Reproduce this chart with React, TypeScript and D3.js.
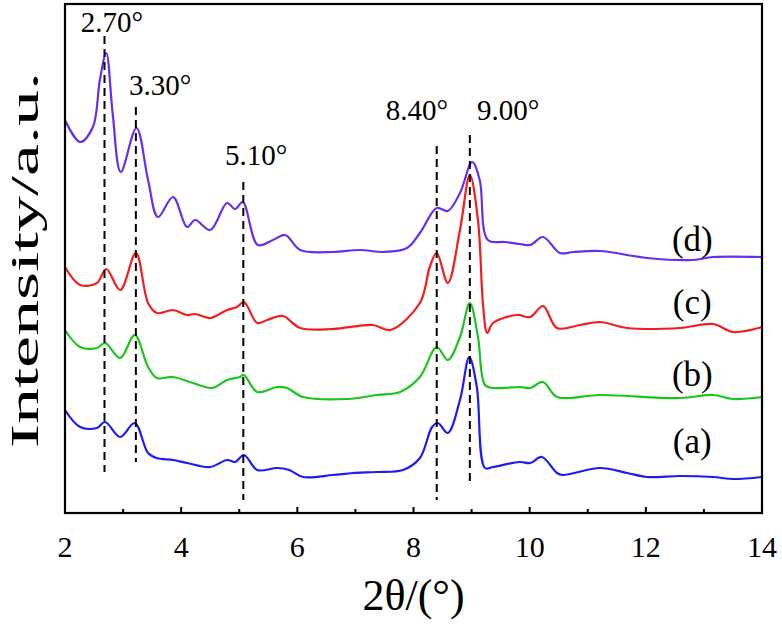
import React from "react";
import * as d3 from "d3";

// ---- data ----
const X_TICKS = [2, 4, 6, 8, 10, 12, 14];
const X_MINOR = [3, 5, 7, 9, 11, 13];

const A_X = [2.00,2.26,2.55,2.69,2.95,3.20,3.43,3.58,3.86,4.10,4.50,4.79,4.93,5.08,5.31,5.65,5.86,6.10,6.61,6.96,7.37,7.82,8.11,8.32,8.42,8.59,8.80,8.96,9.09,9.23,9.37,9.83,10.01,10.21,10.47,10.57,11.21,11.68,12.02,12.59,13.16,13.50,14.00];
const A_Y = [103,86,85,91,76,90,60,55,53,50,46,53,51,58,43,45,43,36,38,40,41,43,55,86,90,80,113,156,126,45,46,51,50,56,40,38,45,40,36,37,36,34,36];

const B_X = [2.00,2.26,2.55,2.69,2.95,3.20,3.43,3.58,3.86,4.20,4.53,4.79,5.01,5.08,5.31,5.65,5.82,6.10,6.86,7.37,7.77,8.11,8.40,8.59,8.80,8.97,9.11,9.23,9.37,9.83,10.01,10.23,10.47,11.21,12.59,13.16,13.50,14.00];
const B_Y = [183,166,165,170,155,178,146,135,136,130,125,133,136,138,121,126,125,116,114,118,121,136,166,153,176,210,176,128,125,126,125,131,116,118,115,118,114,116];

const C_X = [2.00,2.26,2.55,2.71,2.95,3.22,3.43,3.58,3.86,4.10,4.24,4.50,4.79,4.96,5.08,5.31,5.48,5.75,6.05,6.61,7.30,7.60,8.11,8.28,8.40,8.59,8.80,8.97,9.11,9.20,9.27,9.37,9.78,10.01,10.23,10.47,10.87,11.21,11.68,12.59,13.16,13.50,14.00];
const C_Y = [246,228,230,244,223,260,210,200,203,198,199,195,203,206,211,190,193,197,185,184,188,183,210,246,260,230,283,338,293,206,180,190,198,196,207,185,188,191,185,185,189,181,186];

const D_X = [2.00,2.26,2.48,2.60,2.71,2.82,2.96,3.23,3.43,3.60,3.86,4.10,4.24,4.50,4.79,4.93,5.06,5.32,5.58,5.79,6.05,6.61,7.08,7.48,7.89,8.11,8.40,8.59,8.80,9.01,9.14,9.28,9.57,9.83,10.01,10.23,10.52,10.75,11.21,12.02,12.81,13.16,14.00];
const D_Y = [393,371,386,433,460,400,341,385,333,296,316,286,293,283,310,304,311,268,273,278,263,261,263,261,265,280,305,302,320,351,333,273,271,269,268,276,260,261,262,255,253,256,256];

const SERIES_NAMES = ["(a)", "(b)", "(c)", "(d)"];
const SERIES_COLORS = ["#1c1cf5", "#1ec41e", "#f51c1c", "#6430ee"];

const DASH_X = [2.68, 3.22, 5.07, 8.40, 8.97];
const DASH_TOP = [477, 406, 331, 367, 378];
const DASH_BOTTOM = [41, 51, 13, 13, 28];
const PEAK_LABELS = ["2.70°", "3.30°", "5.10°", "8.40°", "9.00°"];

// annotation anchors (data coordinates)
const PEAK_LABEL_X = [2.81, 3.64, 5.29, 8.06, 9.63];
const PEAK_LABEL_Y = [481, 418, 348, 393, 393];
const SERIES_LABEL_X = 12.8;
const SERIES_LABEL_Y = [60, 127, 199, 262];

const W = 782;
const H = 624;
const M = { left: 65, right: 762, top: 4, bottom: 513 };
const FONT = "Liberation Serif, DejaVu Serif, serif";

export default function App() {
  const x = d3.scaleLinear().domain([2, 14]).range([M.left, M.right]);
  const y = d3.scaleLinear().domain([0, 509]).range([M.bottom, M.top]);

  const series = [
    { xs: A_X, ys: A_Y },
    { xs: B_X, ys: B_Y },
    { xs: C_X, ys: C_Y },
    { xs: D_X, ys: D_Y },
  ];

  const line = d3
    .line<[number, number]>()
    .x((d) => x(d[0]))
    .y((d) => y(d[1]))
    .curve(d3.curveCatmullRom.alpha(0.5));

  return (
    <svg
      width={W}
      height={H}
      style={{ position: "absolute", left: 0, top: 0, background: "#fff" }}
      fontFamily={FONT}
    >
      <rect x={0} y={0} width={W} height={H} fill="#fff" />
      {series.map((s, i) => (
        <path
          key={i}
          d={line(s.xs.map((v, j) => [v, s.ys[j]] as [number, number])) || ""}
          fill="none"
          stroke={SERIES_COLORS[i]}
          strokeWidth={2.2}
          strokeLinejoin="round"
        />
      ))}
      {DASH_X.map((v, i) => (
        <line
          key={i}
          x1={x(v)}
          x2={x(v)}
          y1={y(DASH_TOP[i])}
          y2={y(DASH_BOTTOM[i])}
          stroke="#000"
          strokeWidth={2}
          strokeDasharray="8,5"
        />
      ))}
      {PEAK_LABELS.map((t, i) => (
        <text
          key={i}
          x={x(PEAK_LABEL_X[i])}
          y={y(PEAK_LABEL_Y[i])}
          textAnchor="middle"
          fontSize={29}
          fill="#000"
        >
          {t}
        </text>
      ))}
      {SERIES_NAMES.map((t, i) => (
        <text
          key={i}
          x={x(SERIES_LABEL_X)}
          y={y(SERIES_LABEL_Y[i])}
          textAnchor="middle"
          fontSize={35}
          fill="#000"
        >
          {t}
        </text>
      ))}
      {/* frame */}
      <rect
        x={M.left}
        y={M.top}
        width={M.right - M.left}
        height={M.bottom - M.top}
        fill="none"
        stroke="#000"
        strokeWidth={2.2}
      />
      {X_TICKS.map((t) => (
        <g key={"t" + t}>
          <line x1={x(t)} x2={x(t)} y1={M.bottom} y2={M.bottom - 6} stroke="#000" strokeWidth={2} />
          <text x={x(t)} y={557} textAnchor="middle" fontSize={30} fill="#000">
            {t}
          </text>
        </g>
      ))}
      {X_MINOR.map((t) => (
        <line key={"m" + t} x1={x(t)} x2={x(t)} y1={M.bottom} y2={M.bottom - 4} stroke="#000" strokeWidth={2} />
      ))}
      <text x={(M.left + M.right) / 2} y={610} textAnchor="middle" fontSize={44} fill="#000">
        2θ/(°)
      </text>
      <text
        transform={`translate(38, 260) rotate(-90)`}
        textAnchor="middle"
        fontSize={41}
        textLength={376}
        lengthAdjust="spacingAndGlyphs"
        fill="#000"
      >
        Intensity/a.u.
      </text>
    </svg>
  );
}
